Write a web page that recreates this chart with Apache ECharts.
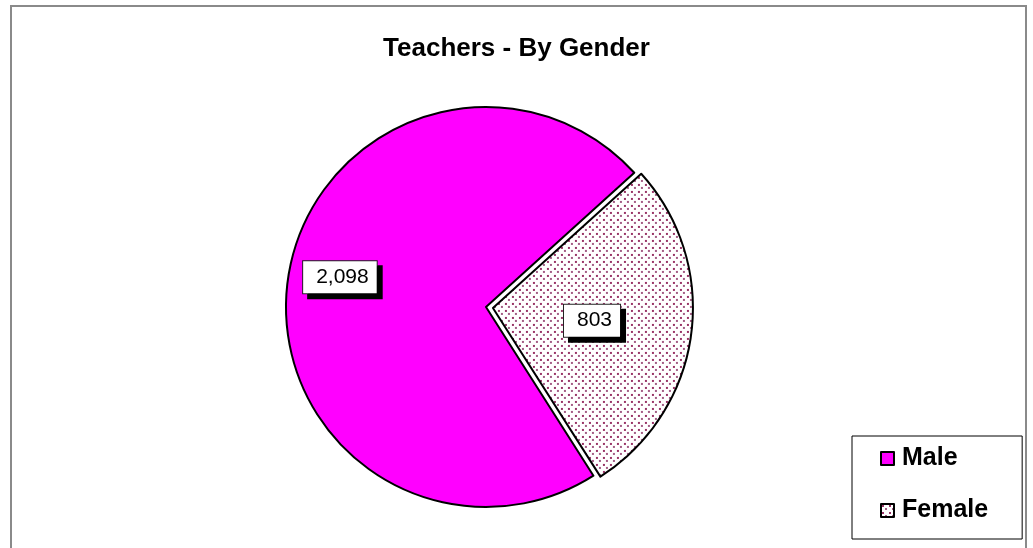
<!DOCTYPE html>
<html>
<head>
<meta charset="utf-8">
<script src="https://cdn.jsdelivr.net/npm/echarts@6.0.0/dist/echarts.min.js"></script>
<style>
  html, body { margin: 0; padding: 0; background: #fff; }
  #frame { position: absolute; left: 10px; top: 5px; width: 1017px; height: 560px;
           border: 2px solid #8a8a8a; box-sizing: border-box; pointer-events: none; }
  #chart { position: absolute; left: 0; top: 0; width: 1033px; height: 548px; }
</style>
</head>
<body>
<div id="chart"></div>
<div id="frame"></div>
<script>
// data
var genders = ['Male', 'Female']
var teachers = [2098, 803]
var titleText = 'Teachers - By Gender'

// dotted fill like the old excel pattern
function dotPattern() {
	var c = document.createElement('canvas')
	c.width = 7
	c.height = 7
	var ctx = c.getContext('2d')
	ctx.fillStyle = '#ffffff'
	ctx.fillRect(0, 0, 7, 7)
	ctx.fillStyle = '#993366'
	ctx.fillRect(1, 1, 2, 2)
	ctx.fillStyle = '#a35c85'
	ctx.fillRect(4, 4, 2, 2)
	return c
}

var fills = ['#ff00ff', { image: dotPattern(), repeat: 'repeat' }]

var chart = echarts.init(document.getElementById('chart'))

var option = {
	animation: false,
	title: {
		text: titleText,
		left: 'center',
		top: 31,
		textStyle: {
			fontFamily: 'Liberation Sans, Arial',
			fontSize: 26,
			fontWeight: 'bold',
			color: '#000'
		}
	},
	legend: {
		orient: 'vertical',
		left: 852,
		top: 436,
		padding: [10, 34, 16, 28],
		icon: 'rect',
		itemWidth: 13,
		itemHeight: 13,
		itemGap: 27,
		borderColor: '#000',
		borderWidth: 1,
		backgroundColor: '#fff',
		data: genders,
		itemStyle: { borderColor: '#000', borderWidth: 2 },
		textStyle: {
			fontFamily: 'Liberation Sans, Arial',
			fontSize: 25,
			fontWeight: 'bold',
			color: '#000',
			padding: [0, 0, 0, 3]
		}
	},
	series: [
		{
			type: 'pie',
			center: [486, 307],
			radius: 200,
			startAngle: 302.5,
			clockwise: true,
			selectedMode: 'single',
			selectedOffset: 7,
			emphasis: { scale: false, disabled: true },
			itemStyle: {
				borderColor: '#000',
				borderWidth: 2
			},
			label: {
				show: true,
				position: 'inside',
				formatter: function (p) {
					return p.value.toLocaleString('en-US')
				},
				fontFamily: 'Liberation Sans, Arial',
				fontSize: 21,
				color: '#000',
				backgroundColor: '#fff',
				borderColor: '#222',
				borderWidth: 1,
				padding: [6, 8, 5, 13],
				shadowColor: '#000',
				shadowBlur: 0,
				shadowOffsetX: 5,
				shadowOffsetY: 5
			},
			labelLine: { show: false },
			labelLayout: function (p) {
				if (p.dataIndex === 0) return { dx: -44, dy: -16 }
				return { dx: -3, dy: -1 }
			},
			data: genders.map(function (g, i) {
				return {
					name: g,
					value: teachers[i],
					selected: i === 1,
					itemStyle: { color: fills[i] }
				}
			})
		}
	]
}

chart.setOption(option)
</script>
</body>
</html>
